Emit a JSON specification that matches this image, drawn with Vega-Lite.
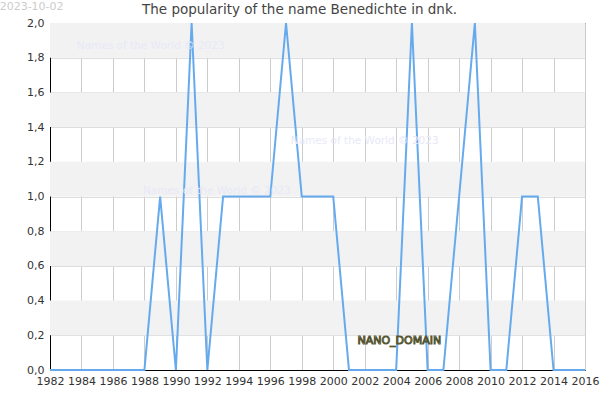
{
  "$schema": "https://vega.github.io/schema/vega-lite/v6.json",
  "autosize": "none",
  "width": 535,
  "height": 347,
  "padding": {"left": 50, "top": 23, "right": 15, "bottom": 30},
  "background": "white",
  "title": {"text": "The popularity of the name Benedichte in dnk.", "fontSize": 13.5, "fontWeight": "normal", "color": "#444444", "font": "DejaVu Sans", "offset": 0, "dy": 15, "dx": -18},
  "config": {
    "view": {"stroke": "black", "strokeWidth": 1},
    "font": "DejaVu Sans",
    "axisX": {"grid": true, "gridColor": "#cccccc", "gridOpacity": 1, "ticks": false, "labelOverlap": false, "labelBound": false, "labelFlush": false, "domainColor": "black", "labelFontSize": 11, "labelColor": "#333333", "labelPadding": 5},
    "axisY": {"grid": true, "gridColor": "#dddddd", "gridOpacity": 1, "ticks": false, "labelOverlap": false, "labelFlush": false, "domainColor": "black", "labelFontSize": 11, "labelColor": "#333333", "labelPadding": 6}
  },
  "datasets": {
    "series": [
      {"year": 1982, "count": 0}, {"year": 1983, "count": 0}, {"year": 1984, "count": 0},
      {"year": 1985, "count": 0}, {"year": 1986, "count": 0}, {"year": 1987, "count": 0},
      {"year": 1988, "count": 0}, {"year": 1989, "count": 1}, {"year": 1990, "count": 0},
      {"year": 1991, "count": 2}, {"year": 1992, "count": 0}, {"year": 1993, "count": 1},
      {"year": 1994, "count": 1}, {"year": 1995, "count": 1}, {"year": 1996, "count": 1},
      {"year": 1997, "count": 2}, {"year": 1998, "count": 1}, {"year": 1999, "count": 1},
      {"year": 2000, "count": 1}, {"year": 2001, "count": 0}, {"year": 2002, "count": 0},
      {"year": 2003, "count": 0}, {"year": 2004, "count": 0}, {"year": 2005, "count": 2},
      {"year": 2006, "count": 0}, {"year": 2007, "count": 0}, {"year": 2008, "count": 1},
      {"year": 2009, "count": 2}, {"year": 2010, "count": 0}, {"year": 2011, "count": 0},
      {"year": 2012, "count": 1}, {"year": 2013, "count": 1}, {"year": 2014, "count": 0},
      {"year": 2015, "count": 0}, {"year": 2016, "count": 0}
    ],
    "bands": [
      {"lo": 1.8, "hi": 2.0}, {"lo": 1.4, "hi": 1.6}, {"lo": 1.0, "hi": 1.2},
      {"lo": 0.6, "hi": 0.8}, {"lo": 0.2, "hi": 0.4}
    ],
    "marks": [
      {"year": 1988.4, "val": 1.87, "label": "Names of the World © 2023"},
      {"year": 1992.6, "val": 1.03, "label": "Names of the World © 2023"},
      {"year": 2002.0, "val": 1.32, "label": "Names of the World © 2023"}
    ],
    "brand": [{"year": 2004.2, "val": 0.167, "label": "NANO_DOMAIN"}],
    "stamp": [{"year": 1978.8, "val": 2.125, "label": "2023-10-02"}]
  },
  "layer": [
    {
      "data": {"name": "bands"},
      "mark": {"type": "rect", "color": "#f2f2f2"},
      "encoding": {
        "y": {"field": "lo", "type": "quantitative", "scale": {"domain": [0, 2], "nice": false},
          "axis": {"title": null, "values": [0,0.2,0.4,0.6,0.8,1,1.2,1.4,1.6,1.8,2], "labelExpr": "replace(format(datum.value, '.1f'), '.', ',')"}},
        "y2": {"field": "hi"}
      }
    },
    {
      "data": {"name": "series"},
      "mark": {"type": "line", "color": "#66aaee", "strokeWidth": 2},
      "encoding": {
        "x": {
          "field": "year", "type": "quantitative",
          "scale": {"domain": [1982, 2016], "nice": false, "zero": false},
          "axis": {"title": null, "values": [1982,1984,1986,1988,1990,1992,1994,1996,1998,2000,2002,2004,2006,2008,2010,2012,2014,2016], "format": "d"}
        },
        "y": {
          "field": "count", "type": "quantitative",
          "axis": {"title": null, "values": [0,0.2,0.4,0.6,0.8,1,1.2,1.4,1.6,1.8,2], "labelExpr": "replace(format(datum.value, '.1f'), '.', ',')"}
        }
      }
    },
    {
      "data": {"name": "marks"},
      "mark": {"type": "text", "color": "#e8e8f8", "fontSize": 10.5},
      "encoding": {
        "x": {"field": "year", "type": "quantitative",
          "axis": {"title": null, "values": [1982,1984,1986,1988,1990,1992,1994,1996,1998,2000,2002,2004,2006,2008,2010,2012,2014,2016], "format": "d"}},
        "y": {"field": "val", "type": "quantitative",
          "axis": {"title": null, "values": [0,0.2,0.4,0.6,0.8,1,1.2,1.4,1.6,1.8,2], "labelExpr": "replace(format(datum.value, '.1f'), '.', ',')"}},
        "text": {"field": "label"}
      }
    },
    {
      "data": {"name": "brand"},
      "mark": {"type": "text", "color": "#eeeebb", "stroke": "#555533", "strokeWidth": 1, "fontSize": 11},
      "encoding": {
        "x": {"field": "year", "type": "quantitative",
          "axis": {"title": null, "values": [1982,1984,1986,1988,1990,1992,1994,1996,1998,2000,2002,2004,2006,2008,2010,2012,2014,2016], "format": "d"}},
        "y": {"field": "val", "type": "quantitative",
          "axis": {"title": null, "values": [0,0.2,0.4,0.6,0.8,1,1.2,1.4,1.6,1.8,2], "labelExpr": "replace(format(datum.value, '.1f'), '.', ',')"}},
        "text": {"field": "label"}
      }
    },
    {
      "data": {"name": "stamp"},
      "mark": {"type": "text", "color": "#cccccc", "fontSize": 11, "align": "left", "baseline": "top", "clip": false},
      "encoding": {
        "x": {"field": "year", "type": "quantitative",
          "axis": {"title": null, "values": [1982,1984,1986,1988,1990,1992,1994,1996,1998,2000,2002,2004,2006,2008,2010,2012,2014,2016], "format": "d"}},
        "y": {"field": "val", "type": "quantitative",
          "axis": {"title": null, "values": [0,0.2,0.4,0.6,0.8,1,1.2,1.4,1.6,1.8,2], "labelExpr": "replace(format(datum.value, '.1f'), '.', ',')"}},
        "text": {"field": "label"}
      }
    }
  ]
}
